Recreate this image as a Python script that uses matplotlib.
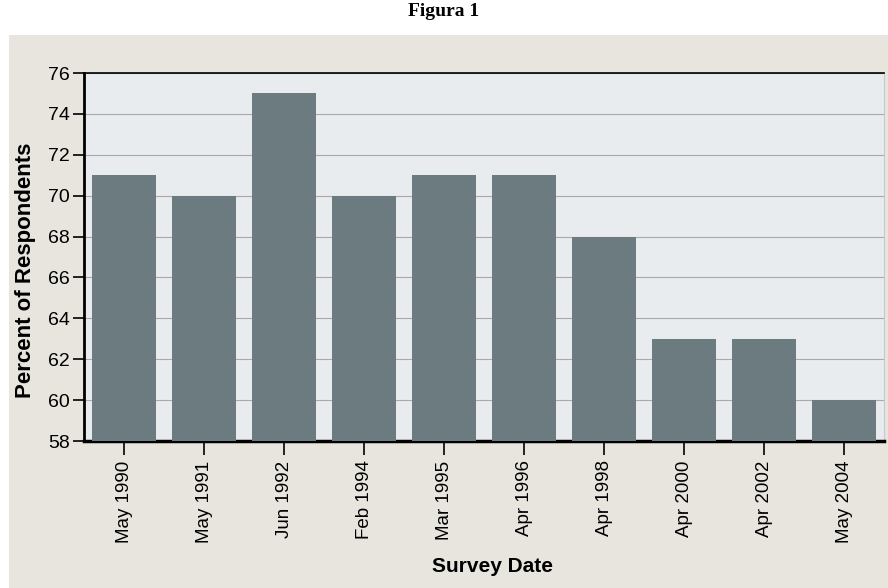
import matplotlib.pyplot as plt
from matplotlib.patches import Rectangle

# Survey data
dates = ["May 1990", "May 1991", "Jun 1992", "Feb 1994", "Mar 1995",
         "Apr 1996", "Apr 1998", "Apr 2000", "Apr 2002", "May 2004"]
percent = [71, 70, 75, 70, 71, 71, 68, 63, 63, 60]
yticks = [58, 60, 62, 64, 66, 68, 70, 72, 74, 76]

fig = plt.figure(figsize=(8.88, 5.88), dpi=100)
fig.patch.set_facecolor("white")

# beige panel behind the chart
fig.patches.append(Rectangle((9/888, 0), 1 - 9/888, 553/588, transform=fig.transFigure,
                             facecolor="#e8e5df", edgecolor="none", zorder=-10))

fig.text(0.5, 1 - 12/588, "Figura 1", ha="center", va="center",
         family="Liberation Serif", fontweight="bold", fontsize=14)

ax = fig.add_axes([84/888, 147/588, 800/888, 368/588])
ax.set_facecolor("#e9ecee")
x = range(len(dates))
ax.bar(x, percent, width=0.8, color="#6b7b80", zorder=3, bottom=0)
ax.set_xlim(-0.5, len(dates) - 0.5)
ax.set_ylim(58, 76)
ax.set_yticks(yticks)
ax.yaxis.grid(True, color="#a8a8a8", linewidth=0.8, zorder=1)
ax.set_xticks(list(x))
ax.set_xticklabels(dates, rotation=90, family="Liberation Sans", fontsize=13.5)
for lab in ax.get_yticklabels():
    lab.set_family("Liberation Sans")
    lab.set_fontsize(14)

ax.spines["left"].set_linewidth(2)
ax.spines["bottom"].set_linewidth(2.5)
ax.spines["top"].set_linewidth(1.2)
ax.spines["right"].set_linewidth(0.8)
ax.spines["right"].set_color("#c8c8c8")
ax.tick_params(direction="out", length=8, width=1.2, colors="black", pad=2)
ax.tick_params(axis="x", length=10, pad=4)

ax.set_ylabel("Percent of Respondents", family="Liberation Sans",
              fontweight="bold", fontsize=16)
ax.set_xlabel("Survey Date", family="Liberation Sans",
              fontweight="bold", fontsize=15)
ax.yaxis.set_label_coords(-0.06, 0.465)
ax.xaxis.set_label_coords(0.51, -0.315)

fig.savefig("out.png", dpi=100)
